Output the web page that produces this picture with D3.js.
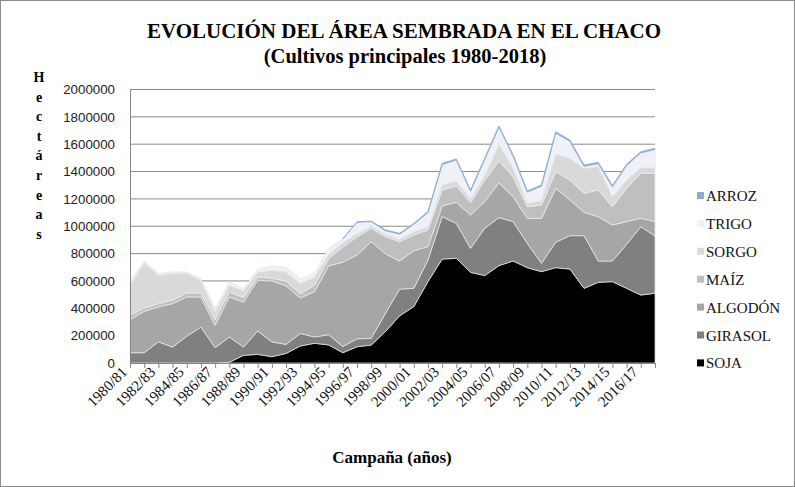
<!DOCTYPE html>
<html>
<head>
<meta charset="utf-8">
<script src="https://cdn.jsdelivr.net/npm/d3@7"></script>
<style>
  body { margin: 0; background: #fff; }
  svg { display: block; }
</style>
</head>
<body>
<svg id="chart" width="795" height="487"></svg>
<script>
// campañas 1980/81 .. 2017/18
const campaigns = d3.range(1980, 2018).map(y => `${y}/${String((y + 1) % 100).padStart(2, `0`)}`);

// hectáreas (miles)
const soja    = [0, 0, 0, 0, 0, 0, 0, 5, 56, 63, 46, 70, 124, 144, 132, 75, 119, 131, 229, 345, 412, 595, 760, 765, 663, 639, 712, 746, 697, 668, 697, 687, 546, 590, 595, 546, 497, 510];
const girasol = [75, 75, 155, 117, 195, 263, 112, 185, 61, 171, 109, 66, 92, 46, 75, 45, 58, 49, 134, 195, 134, 158, 310, 256, 176, 346, 351, 288, 178, 61, 186, 244, 385, 156, 151, 322, 500, 419];
const algodon = [242, 303, 255, 317, 288, 220, 164, 293, 329, 371, 445, 429, 259, 332, 503, 617, 613, 707, 437, 205, 275, 98, 78, 154, 243, 195, 255, 182, 183, 329, 394, 261, 171, 324, 263, 166, 61, 105];
const maiz    = [31, 24, 24, 25, 29, 29, 41, 37, 32, 24, 20, 33, 32, 46, 53, 112, 132, 98, 124, 142, 115, 122, 117, 119, 90, 158, 159, 146, 85, 97, 122, 146, 139, 195, 134, 243, 329, 353];
const sorgo   = [220, 330, 207, 195, 142, 93, 56, 48, 49, 37, 58, 68, 73, 61, 32, 31, 24, 15, 16, 18, 24, 22, 37, 36, 28, 32, 122, 63, 25, 30, 127, 159, 183, 171, 73, 61, 41, 41];
const trigo   = [32, 12, 13, 12, 12, 10, 25, 25, 17, 19, 32, 34, 35, 29, 45, 28, 84, 34, 28, 37, 55, 105, 150, 154, 57, 119, 126, 88, 82, 108, 155, 124, 15, 22, 72, 107, 109, 134];
const arroz   = [0, 0, 0, 0, 0, 0, 0, 0, 0, 0, 0, 0, 0, 0, 0, 0, 2, 4, 5, 6, 6, 7, 8, 8, 8, 9, 8, 8, 8, 9, 10, 9, 9, 9, 9, 8, 8, 8];

const seriesNames = [`SOJA`, `GIRASOL`, `ALGODÓN`, `MAÍZ`, `SORGO`, `TRIGO`, `ARROZ`];
const seriesValues = [soja, girasol, algodon, maiz, sorgo, trigo, arroz];
const colors = [`#000000`, `#808080`, `#a6a6a6`, `#bfbfbf`, `#d9d9d9`, `#eef1f6`, `#8eaadb`];
const strokes = [`#d0d0d0`, `#e0e0e0`, `#e6e6e6`, `#e8e8e8`, `#ececec`, `#e2e5ec`, `#95b3d7`];

const yTicks = [0, 200000, 400000, 600000, 800000, 1000000, 1200000, 1400000, 1600000, 1800000, 2000000];

const rows = campaigns.map((c, i) => {
    const row = { campaign: c, index: i };
    seriesNames.forEach((s, k) => { row[s] = seriesValues[k][i] * 1000; });
    return row;
});

const svg = d3.select(`#chart`);
const plotLeft = 130, plotRight = 655, plotTop = 89.5, plotBottom = 363;

svg.append(`rect`)
    .attr(`x`, 0.5).attr(`y`, 0.5)
    .attr(`width`, 794).attr(`height`, 486)
    .attr(`fill`, `#fff`)
    .attr(`stroke`, `#8c8c8c`);

const x = d3.scalePoint().domain(campaigns).range([plotLeft, plotRight]);
const y = d3.scaleLinear().domain([0, 2000000]).range([plotBottom, plotTop]);

// gridlines
svg.append(`g`)
    .selectAll(`line`)
    .data(yTicks.slice(1))
    .join(`line`)
    .attr(`x1`, plotLeft).attr(`x2`, plotRight)
    .attr(`y1`, d => y(d)).attr(`y2`, d => y(d))
    .attr(`stroke`, `#8a8a8a`)
    .attr(`stroke-width`, 1);

const stack = d3.stack().keys(seriesNames);
const layers = stack(rows);

const firstArroz = arroz.findIndex(v => v > 0) - 1;

const area = d3.area()
    .x(d => x(d.data.campaign))
    .y0(d => y(d[0]))
    .y1(d => y(d[1]));

const areaArroz = d3.area()
    .defined(d => d.data.index >= firstArroz)
    .x(d => x(d.data.campaign))
    .y0(d => y(d[0]))
    .y1(d => y(d[1]));

svg.append(`g`)
    .selectAll(`path`)
    .data(layers)
    .join(`path`)
    .attr(`d`, (d, i) => i === 6 ? areaArroz(d) : area(d))
    .attr(`fill`, (d, i) => colors[i])
    .attr(`stroke`, (d, i) => strokes[i])
    .attr(`stroke-width`, (d, i) => i === 6 ? 1 : 0.8)
    .attr(`stroke-linejoin`, `round`);

// y axis
const yAxis = svg.append(`g`)
    .attr(`transform`, `translate(${plotLeft},0)`)
    .call(d3.axisLeft(y).tickValues(yTicks).tickFormat(d3.format(`d`)).tickSize(0).tickPadding(15));
yAxis.select(`.domain`).attr(`stroke`, `#868686`);
yAxis.selectAll(`text`)
    .attr(`font-family`, `"Liberation Sans", Arial, sans-serif`)
    .attr(`font-size`, `13.3px`)
    .attr(`fill`, `#222`);

// x axis
const xAxis = svg.append(`g`)
    .attr(`transform`, `translate(0,${plotBottom})`)
    .call(d3.axisBottom(x).tickSize(5).tickFormat(``));
xAxis.select(`.domain`).attr(`stroke`, `#868686`).attr(`d`, `M${plotLeft},0.5H${plotRight}`);
xAxis.selectAll(`.tick line`).attr(`stroke`, `#868686`);

const serif = `"Liberation Serif", "Times New Roman", serif`;

svg.append(`g`)
    .selectAll(`text`)
    .data(campaigns.filter((c, i) => i % 2 === 0))
    .join(`text`)
    .attr(`transform`, d => `translate(${x(d) - 2},${plotBottom + 10}) rotate(-45)`)
    .attr(`text-anchor`, `end`)
    .attr(`font-family`, serif)
    .attr(`font-size`, `15px`)
    .attr(`fill`, `#111`)
    .text(d => d);

// titles
svg.append(`text`)
    .attr(`x`, 404).attr(`y`, 38)
    .attr(`text-anchor`, `middle`)
    .attr(`font-family`, serif)
    .attr(`font-weight`, `bold`)
    .attr(`font-size`, `21px`)
    .text(`EVOLUCIÓN DEL ÁREA SEMBRADA EN EL CHACO`);

svg.append(`text`)
    .attr(`x`, 405).attr(`y`, 63)
    .attr(`text-anchor`, `middle`)
    .attr(`font-family`, serif)
    .attr(`font-weight`, `bold`)
    .attr(`font-size`, `20.5px`)
    .text(`(Cultivos principales 1980-2018)`);

svg.append(`text`)
    .attr(`x`, 392).attr(`y`, 463)
    .attr(`text-anchor`, `middle`)
    .attr(`font-family`, serif)
    .attr(`font-weight`, `bold`)
    .attr(`font-size`, `17px`)
    .text(`Campaña (años)`);

// vertical y title
svg.append(`g`)
    .selectAll(`text`)
    .data(`Hectáreas`.split(``))
    .join(`text`)
    .attr(`x`, 39)
    .attr(`y`, (d, i) => 82 + i * 19.6)
    .attr(`text-anchor`, `middle`)
    .attr(`font-family`, serif)
    .attr(`font-weight`, `bold`)
    .attr(`font-size`, `14px`)
    .text(d => d);

// legend (top to bottom: ARROZ .. SOJA)
const legendOrder = seriesNames.map((s, i) => i).reverse();
const legend = svg.append(`g`)
    .selectAll(`g`)
    .data(legendOrder)
    .join(`g`)
    .attr(`transform`, (d, i) => `translate(697,${196 + i * 27.9})`);

legend.append(`rect`)
    .attr(`x`, 0).attr(`y`, -4)
    .attr(`width`, 7).attr(`height`, 7)
    .attr(`fill`, d => colors[d]);

legend.append(`text`)
    .attr(`x`, 9).attr(`y`, 5)
    .attr(`font-family`, serif)
    .attr(`font-size`, `15px`)
    .attr(`fill`, `#111`)
    .text(d => seriesNames[d]);
</script>
</body>
</html>
